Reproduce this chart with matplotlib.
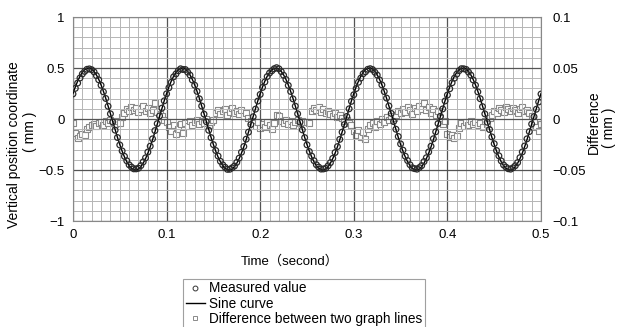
import numpy as np
import matplotlib
matplotlib.use("Agg")
import matplotlib.pyplot as plt
from matplotlib.ticker import MultipleLocator
from matplotlib.lines import Line2D

plt.rcParams['font.family'] = ['Liberation Sans', 'DejaVu Sans']
LBL_FAMILY = ['Liberation Sans', 'Noto Sans CJK JP', 'DejaVu Sans']

# ---- data ----
t_step = 0.0025
t_count = 201
sine_amplitude = 0.5       # mm
sine_period = 0.1          # s
sine_phase = np.pi / 6     # rad

difference = [
    -0.004, -0.014, -0.019, -0.017, -0.015, -0.016, -0.010, -0.008, -0.006, -0.005,
    -0.007, -0.004, -0.003, -0.006, -0.002, -0.004, -0.001, -0.003, -0.005, -0.002,
    -0.004, 0.002, 0.006, 0.010, 0.008, 0.012, 0.009, 0.011, 0.007, 0.010,
    0.013, 0.008, 0.011, 0.006, 0.009, 0.016, 0.007, 0.005, 0.003, -0.001,
    -0.003, -0.008, -0.012, -0.006, -0.015, -0.010, -0.005, -0.014, -0.004, -0.007,
    -0.002, -0.006, -0.003, -0.001, -0.005, -0.002, -0.004, 0.000, -0.006, -0.003,
    -0.001, 0.006, 0.009, 0.005, 0.008, 0.010, 0.004, 0.007, 0.011, 0.006,
    0.008, 0.005, 0.009, 0.003, 0.006, 0.001, -0.002, -0.004, -0.007, -0.003,
    -0.009, -0.005, -0.008, -0.003, -0.006, -0.010, -0.004, 0.004, 0.003, -0.002,
    -0.004, -0.001, -0.005, -0.002, -0.006, -0.003, -0.001, -0.004, -0.002, -0.003,
    -0.003, -0.004, 0.008, 0.011, 0.009, 0.012, 0.007, 0.010, 0.006, 0.008,
    0.005, 0.003, 0.006, 0.002, 0.004, 0.001, -0.002, -0.001, -0.004, -0.006,
    -0.012, -0.016, -0.011, -0.018, -0.013, -0.020, -0.010, -0.006, -0.004, -0.008,
    -0.002, -0.005, 0.000, -0.003, 0.002, -0.001, 0.003, 0.001, 0.004, 0.008,
    0.006, 0.010, 0.007, 0.012, 0.009, 0.005, 0.011, 0.008, 0.013, 0.010,
    0.016, 0.009, 0.012, 0.006, 0.010, 0.004, 0.008, 0.001, -0.005, -0.002,
    -0.015, -0.018, -0.016, -0.019, -0.017, -0.009, -0.004, -0.007, -0.003, -0.006,
    -0.002, -0.005, -0.003, -0.006, -0.004, -0.008, -0.002, -0.005, 0.001, 0.004,
    0.008, 0.006, 0.011, 0.009, 0.007, 0.012, 0.010, 0.008, 0.011, 0.009,
    0.006, 0.010, 0.012, 0.008, 0.009, 0.006, 0.003, -0.003, -0.008, -0.012,
    -0.005,
]

left_ticks = [-1, -0.5, 0, 0.5, 1]
left_labels = ["\u22121", "\u22120.5", "0", "0.5", "1"]
right_ticks = [-0.1, -0.05, 0, 0.05, 0.1]
right_labels = ["\u22120.1", "\u22120.05", "0", "0.05", "0.1"]
x_ticks = [0, 0.1, 0.2, 0.3, 0.4, 0.5]
x_labels = ["0", "0.1", "0.2", "0.3", "0.4", "0.5"]

# ---- derived ----
t = np.arange(t_count) * t_step
sine = sine_amplitude * np.sin(2 * np.pi * t / sine_period + sine_phase)
diff = np.array(difference)
measured = sine + diff

# ---- figure ----
W, H = 620, 327
fig = plt.figure(figsize=(6.2, 3.27), dpi=100)
ax = fig.add_axes([0.1177, 0.324, 0.7549, 0.624])

ax.set_xlim(0, 0.5)
ax.set_ylim(-1, 1)
ax.xaxis.set_minor_locator(MultipleLocator(0.01))
ax.yaxis.set_minor_locator(MultipleLocator(0.1))
ax.set_xticks(x_ticks)
ax.set_xticklabels(x_labels)
ax.set_yticks(left_ticks)
ax.set_yticklabels(left_labels)
ax.grid(which='minor', color='#b5b5b5', lw=0.7)
ax.grid(which='major', color='#555555', lw=0.9)
ax.set_axisbelow(True)
ax.tick_params(which='both', length=0, labelsize=9.5, pad=6)
for s in ax.spines.values():
    s.set_color('#888888')
    s.set_linewidth(0.8)

ax.plot(t, sine, color='black', lw=1.0, zorder=3)
ax.scatter(t, measured, s=17, marker='o', facecolors='none',
           edgecolors='#2a2a2a', linewidths=0.9, zorder=4)

ax.set_xlabel("Time\uff08second\uff09", fontsize=9.5, family=LBL_FAMILY)
ax.xaxis.set_label_coords(0.464, -0.165)

# left axis title (two lines, placed individually like the reference)
fig.text(14 / W, 1 - 145 / H, "Vertical position coordinate", rotation=90,
         ha='center', va='center', fontsize=10, family=LBL_FAMILY)
fig.text(30 / W, 1 - 132 / H, "( mm )", rotation=90,
         ha='center', va='center', fontsize=10, family=LBL_FAMILY)

ax2 = ax.twinx()
ax2.set_ylim(-0.1, 0.1)
ax2.set_yticks(right_ticks)
ax2.set_yticklabels(right_labels)
ax2.tick_params(length=0, labelsize=9.5, pad=8)
for s in ax2.spines.values():
    s.set_visible(False)
ax2.scatter(t, diff, s=16, marker='s', facecolors='white',
            edgecolors='#8a8a8a', linewidths=0.8, zorder=2)
ax.set_zorder(ax2.get_zorder() + 1)
ax.patch.set_visible(False)

# right axis title
fig.text(594 / W, 1 - 122 / H, "Difference", rotation=90,
         ha='center', va='center', fontsize=10, family=LBL_FAMILY)
fig.text(609 / W, 1 - 128 / H, "( mm )", rotation=90,
         ha='center', va='center', fontsize=10, family=LBL_FAMILY)

handles = [
    Line2D([], [], ls='none', marker='o', ms=3.5, mfc='none', mec='#333333', mew=0.7),
    Line2D([], [], color='black', lw=1.0),
    Line2D([], [], ls='none', marker='s', ms=3.5, mfc='white', mec='#8a8a8a', mew=0.7),
]
labels = ["Measured value", "Sine curve", "Difference between two graph lines"]
leg = fig.legend(handles, labels, loc='upper center', bbox_to_anchor=(0.49, 0.148),
                 fontsize=9.8, frameon=True, fancybox=False, handlelength=1.4,
                 handletextpad=0.3, labelspacing=0.1, borderpad=0.2,
                 borderaxespad=0)
leg.get_frame().set_edgecolor('#888888')
leg.get_frame().set_linewidth(0.8)

fig.savefig("out.png", dpi=100)
